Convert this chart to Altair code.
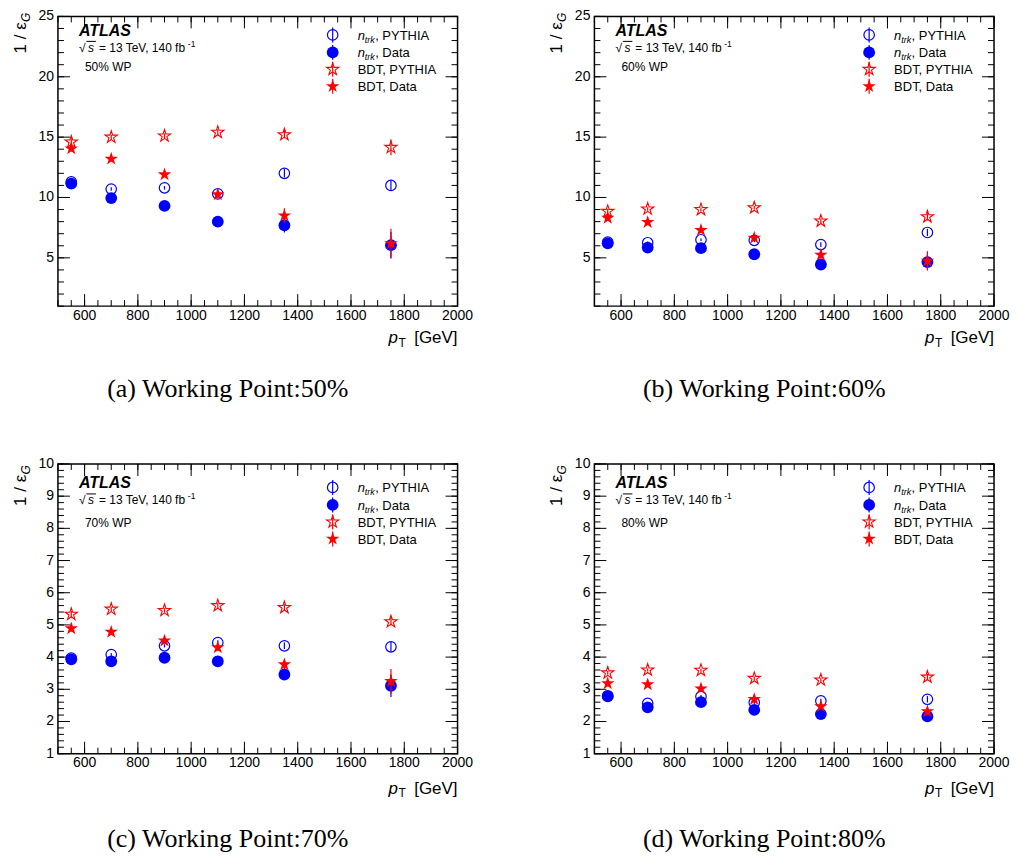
import altair as alt
import pandas as pd

PT = [550, 700, 900, 1100, 1350, 1750]

# (a) 50% WP
NTRK_PY_50 = [11.3, 10.7, 10.8, 10.3, 12.0, 11.0]
NTRK_PY_50_ERR = [0.2, 0.15, 0.15, 0.25, 0.35, 0.45]
NTRK_DA_50 = [11.15, 9.95, 9.3, 8.0, 7.7, 6.05]
NTRK_DA_50_ERR = [0.15, 0.15, 0.15, 0.2, 0.6, 1.1]
BDT_PY_50 = [14.6, 15.0, 15.1, 15.4, 15.2, 14.15]
BDT_PY_50_ERR = [0.3, 0.2, 0.2, 0.25, 0.3, 0.65]
BDT_DA_50 = [14.05, 13.2, 11.9, 10.25, 8.5, 6.2]
BDT_DA_50_ERR = [0.25, 0.2, 0.2, 0.3, 0.6, 1.2]

# (b) 60% WP
NTRK_PY_60 = [6.3, 6.25, 6.5, 6.45, 6.1, 7.1]
NTRK_PY_60_ERR = [0.1, 0.1, 0.1, 0.15, 0.2, 0.3]
NTRK_DA_60 = [6.2, 5.85, 5.8, 5.3, 4.45, 4.65]
NTRK_DA_60_ERR = [0.1, 0.1, 0.1, 0.1, 0.25, 0.6]
BDT_PY_60 = [8.85, 9.05, 9.0, 9.15, 8.05, 8.4]
BDT_PY_60_ERR = [0.2, 0.15, 0.15, 0.15, 0.2, 0.3]
BDT_DA_60 = [8.3, 7.95, 7.3, 6.65, 5.25, 4.75]
BDT_DA_60_ERR = [0.2, 0.15, 0.2, 0.2, 0.35, 0.8]

# (c) 70% WP
NTRK_PY_70 = [3.97, 4.08, 4.35, 4.45, 4.35, 4.32]
NTRK_PY_70_ERR = [0.05, 0.05, 0.05, 0.07, 0.1, 0.15]
NTRK_DA_70 = [3.93, 3.87, 3.98, 3.87, 3.46, 3.11]
NTRK_DA_70_ERR = [0.05, 0.05, 0.05, 0.06, 0.12, 0.35]
BDT_PY_70 = [5.33, 5.49, 5.45, 5.6, 5.54, 5.1]
BDT_PY_70_ERR = [0.1, 0.07, 0.07, 0.08, 0.1, 0.12]
BDT_DA_70 = [4.89, 4.78, 4.51, 4.3, 3.77, 3.25]
BDT_DA_70_ERR = [0.1, 0.07, 0.08, 0.1, 0.15, 0.38]

# (d) 80% WP
NTRK_PY_80 = [2.8, 2.56, 2.78, 2.59, 2.64, 2.69]
NTRK_PY_80_ERR = [0.04, 0.04, 0.04, 0.05, 0.07, 0.1]
NTRK_DA_80 = [2.78, 2.44, 2.6, 2.36, 2.23, 2.16]
NTRK_DA_80_ERR = [0.04, 0.04, 0.04, 0.05, 0.06, 0.12]
BDT_PY_80 = [3.51, 3.6, 3.59, 3.34, 3.29, 3.38]
BDT_PY_80_ERR = [0.06, 0.05, 0.05, 0.06, 0.07, 0.1]
BDT_DA_80 = [3.18, 3.15, 3.02, 2.69, 2.47, 2.31]
BDT_DA_80_ERR = [0.06, 0.05, 0.06, 0.07, 0.08, 0.12]

X_LABELS = [600, 800, 1000, 1200, 1400, 1600, 1800, 2000]
X_MINOR = list(range(500, 2001, 50))
Y_LABELS_TOP = [5, 10, 15, 20, 25]
Y_MINOR_TOP = list(range(1, 26))
Y_LABELS_BOT = [1, 2, 3, 4, 5, 6, 7, 8, 9, 10]
Y_MINOR_BOT = [round(1 + 0.2 * i, 1) for i in range(46)]

CAPTIONS = ["(a) Working Point:50%", "(b) Working Point:60%",
            "(c) Working Point:70%", "(d) Working Point:80%"]
WP_TEXT = ["50% WP", "60% WP", "70% WP", "80% WP"]
LEGEND_LABELS = ["PYTHIA", "Data", "BDT, PYTHIA", "BDT, Data"]

W, H = 400, 290
BLUE, RED = "#0000ff", "#ff0000"
SANS, SERIF = "Liberation Sans", "Liberation Serif"
STAR = ("M0,-1L0.2245,-0.309L0.951,-0.309L0.363,0.118L0.588,0.809L0,0.382"
        "L-0.588,0.809L-0.363,0.118L-0.951,-0.309L-0.2245,-0.309Z")
ONE = pd.DataFrame({"k": [0]})
XS = alt.Scale(domain=[500, 2000], nice=False, zero=False)

STYLES = [
    dict(shape="circle", filled=False, color=BLUE, size=110, strokeWidth=1.2),
    dict(shape="circle", filled=True, color=BLUE, size=140),
    dict(shape=STAR, filled=False, color=RED, size=165, strokeWidth=1.1),
    dict(shape=STAR, filled=True, color=RED, size=200),
]


def txt(s, x, y, size, style="normal", weight="normal", align="left", angle=0, font=SANS):
    return alt.Chart(ONE).mark_text(
        text=s, font=font, fontSize=size, fontStyle=style, fontWeight=weight,
        align=align, baseline="alphabetic", angle=angle, color="black"
    ).encode(x=alt.value(x), y=alt.value(y))


def tick_rules(values, side, length, ys):
    c = alt.Chart(pd.DataFrame({"t": values})).mark_rule(color="black", strokeWidth=1)
    if side == "bottom":
        return c.encode(x=alt.X("t:Q", scale=XS, axis=None), y=alt.value(H), y2=alt.value(H - length))
    if side == "top":
        return c.encode(x=alt.X("t:Q", scale=XS, axis=None), y=alt.value(0), y2=alt.value(length))
    if side == "left":
        return c.encode(y=alt.Y("t:Q", scale=ys, axis=None), x=alt.value(0), x2=alt.value(length))
    return c.encode(y=alt.Y("t:Q", scale=ys, axis=None), x=alt.value(W), x2=alt.value(W - length))


def panel(series, ydom, ylabels, yminor, wp, cap, d, db):
    ys = alt.Scale(domain=ydom, nice=False, zero=False)
    layers = []
    for side in ["bottom", "top"]:
        layers.append(tick_rules(X_MINOR, side, 6, ys))
        layers.append(tick_rules(X_LABELS, side, 12, ys))
    for side in ["left", "right"]:
        layers.append(tick_rules(yminor, side, 6, ys))
        layers.append(tick_rules(ylabels, side, 12, ys))
    # tick labels, placed through the scales
    xl = pd.DataFrame({"t": X_LABELS, "lab": [str(v) for v in X_LABELS]})
    layers.append(alt.Chart(xl).mark_text(
        font=SANS, fontSize=14, align="center", baseline="top", color="black"
    ).encode(x=alt.X("t:Q", scale=XS, axis=None), y=alt.value(H + 2.5), text="lab:N"))
    yl = pd.DataFrame({"t": ylabels, "lab": [str(v) for v in ylabels]})
    layers.append(alt.Chart(yl).mark_text(
        font=SANS, fontSize=14, align="right", baseline="middle", color="black"
    ).encode(y=alt.Y("t:Q", scale=ys, axis=None), x=alt.value(-4), text="lab:N"))
    for (vals, errs), st in zip(series, STYLES):
        df = pd.DataFrame({"pt": PT, "v": vals,
                           "lo": [v - e for v, e in zip(vals, errs)],
                           "hi": [v + e for v, e in zip(vals, errs)]})
        base = alt.Chart(df)
        layers.append(base.mark_rule(color=st["color"], strokeWidth=1.2).encode(
            x=alt.X("pt:Q", scale=XS, axis=None),
            y=alt.Y("lo:Q", scale=ys, axis=None), y2="hi:Q"))
        layers.append(base.mark_point(opacity=1, **st).encode(
            x=alt.X("pt:Q", scale=XS, axis=None),
            y=alt.Y("v:Q", scale=ys, axis=None)))
    # legend
    rows = [25.5, 43, 60, 77]
    for i, st in enumerate(STYLES):
        yc = rows[i] + d
        layers.append(alt.Chart(ONE).mark_rule(color=st["color"], strokeWidth=1.2).encode(
            x=alt.value(275), y=alt.value(yc - 7.5), y2=alt.value(yc + 7.5)))
        layers.append(alt.Chart(ONE).mark_point(opacity=1, **st).encode(
            x=alt.value(275), y=alt.value(yc)))
        yb = yc + 4.7
        if i < 2:
            layers.append(txt("n", 300, yb, 13, style="italic"))
            layers.append(txt("trk", 307.2, yb + 3, 9, style="italic"))
            layers.append(txt(", " + LEGEND_LABELS[i], 317.5, yb, 13))
        else:
            layers.append(txt(LEGEND_LABELS[i], 300, yb, 13))
    # ATLAS label block
    layers.append(txt("ATLAS", 21, 26.5 + d, 16, style="italic", weight="bold"))
    yb = 42.5 + d
    layers.append(txt("\u221a", 21, yb, 12))
    layers.append(alt.Chart(ONE).mark_rule(color="black", strokeWidth=1).encode(
        x=alt.value(28.5), x2=alt.value(38), y=alt.value(yb - 10.5)))
    layers.append(txt("s", 30, yb, 12, style="italic"))
    layers.append(txt("= 13 TeV, 140 fb", 41, yb, 12))
    layers.append(txt("-1", 130, yb - 5, 8.5))
    layers.append(txt(wp, 27, (61.5 if d < -4 else 65) + d, 12))
    # axis titles
    layers.append(txt("1 / \u03b5", -32, 44 + d, 17, angle=270))
    layers.append(txt("G", -28, 12.5 + d, 12, style="italic", angle=270))
    layers.append(txt("p", 331, H + 40 + db, 17, style="italic"))
    layers.append(txt("T", 341, H + 43.5 + db, 12))
    layers.append(txt("[GeV]", 400, H + 40 + db, 17, align="right"))
    # caption
    layers.append(txt(cap, 170, H + 93.5 + db, 26, font=SERIF, align="center"))
    return alt.layer(*layers).properties(width=W, height=H)


def ser(a, b, c, d_, e, f, g, h):
    return [(a, b), (c, d_), (e, f), (g, h)]


pa = panel(ser(NTRK_PY_50, NTRK_PY_50_ERR, NTRK_DA_50, NTRK_DA_50_ERR,
               BDT_PY_50, BDT_PY_50_ERR, BDT_DA_50, BDT_DA_50_ERR),
           [1, 25], Y_LABELS_TOP, Y_MINOR_TOP, WP_TEXT[0], CAPTIONS[0], -7, -3)
pb = panel(ser(NTRK_PY_60, NTRK_PY_60_ERR, NTRK_DA_60, NTRK_DA_60_ERR,
               BDT_PY_60, BDT_PY_60_ERR, BDT_DA_60, BDT_DA_60_ERR),
           [1, 25], Y_LABELS_TOP, Y_MINOR_TOP, WP_TEXT[1], CAPTIONS[1], -7, -3)
pc = panel(ser(NTRK_PY_70, NTRK_PY_70_ERR, NTRK_DA_70, NTRK_DA_70_ERR,
               BDT_PY_70, BDT_PY_70_ERR, BDT_DA_70, BDT_DA_70_ERR),
           [1, 10], Y_LABELS_BOT, Y_MINOR_BOT, WP_TEXT[2], CAPTIONS[2], -2, 0)
pd_ = panel(ser(NTRK_PY_80, NTRK_PY_80_ERR, NTRK_DA_80, NTRK_DA_80_ERR,
                BDT_PY_80, BDT_PY_80_ERR, BDT_DA_80, BDT_DA_80_ERR),
            [1, 10], Y_LABELS_BOT, Y_MINOR_BOT, WP_TEXT[3], CAPTIONS[3], -2, 0)

chart = alt.ConcatChart(
    concat=[pa, pb, pc, pd_], columns=2,
    spacing={"row": 158, "column": 137}, bounds="flush"
).properties(
    padding={"left": 3, "top": 0, "right": 0, "bottom": 0}
).configure(background="white").configure_view(stroke="black", strokeWidth=1.5)

chart.save("out.html", embed_options={"renderer": "svg", "actions": False})
